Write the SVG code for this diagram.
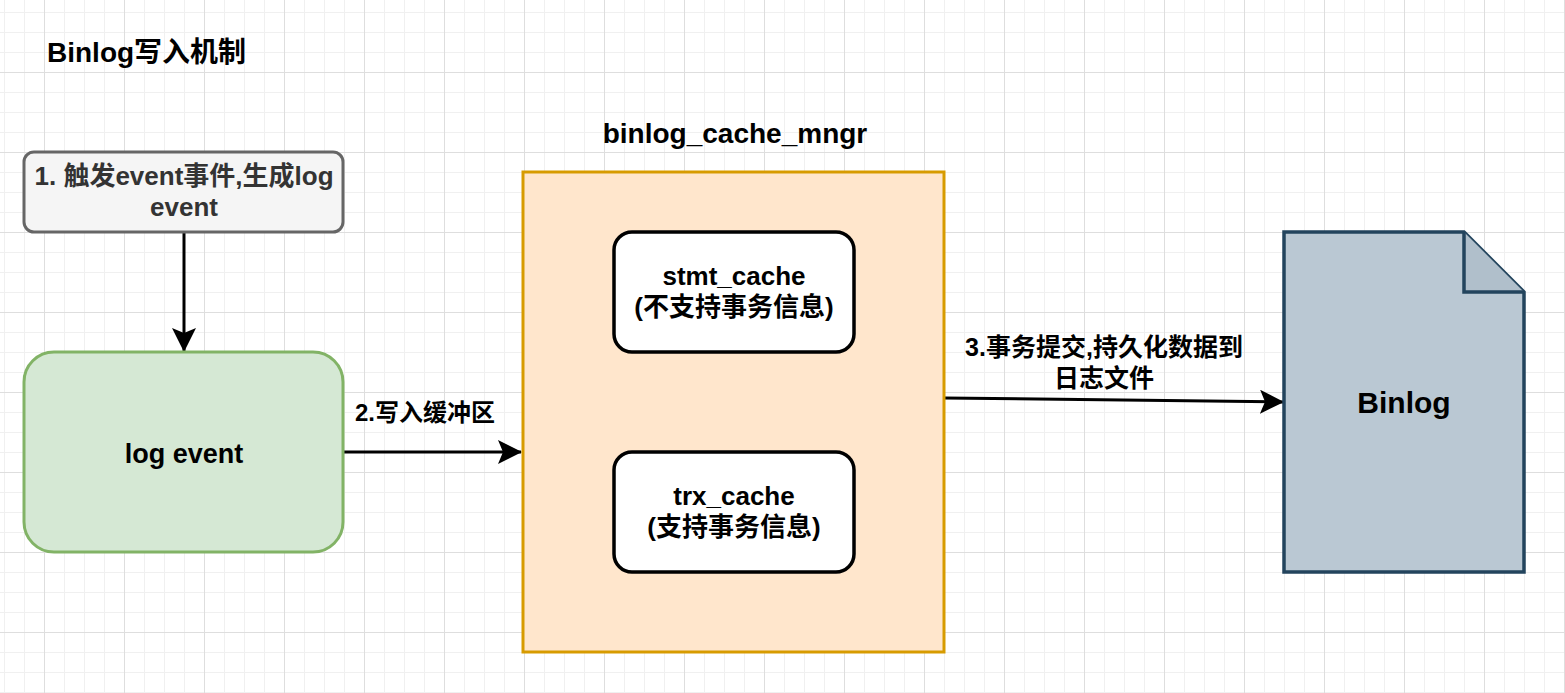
<svg xmlns="http://www.w3.org/2000/svg" width="1565" height="693" viewBox="0 0 1565 693">
<style>
text{font-family:"Liberation Sans","Noto Sans CJK SC",sans-serif;font-weight:bold;fill:#000}
.c{text-anchor:middle}
.edge{fill:none;stroke:#000;stroke-width:3}
</style>
<defs>
<pattern id="grid" patternUnits="userSpaceOnUse" x="44" y="72" width="80" height="80">
<rect x="0" y="0" width="80" height="80" fill="#fff"/>
<g fill="#f0f0f0">
<rect x="20" y="0" width="1" height="80"/><rect x="40" y="0" width="1" height="80"/><rect x="60" y="0" width="1" height="80"/>
<rect x="0" y="20" width="80" height="1"/><rect x="0" y="40" width="80" height="1"/><rect x="0" y="60" width="80" height="1"/>
</g>
<g fill="#dedede">
<rect x="0" y="0" width="1" height="80"/><rect x="0" y="0" width="80" height="1"/>
</g>
</pattern>
<marker id="arr" markerUnits="userSpaceOnUse" viewBox="0 0 24 24" markerWidth="24" markerHeight="24" refX="23" refY="12" orient="auto">
<path d="M0,0 L24,12 L0,24 L5,12 Z" fill="#000"/>
</marker>
</defs>
<rect x="0" y="0" width="1565" height="693" fill="url(#grid)"/>

<g id="title">
<text x="47" y="62" font-size="28">Binlog写入机制</text>
</g>

<g id="connectors">
<path class="edge" d="M184,232 L184,351" marker-end="url(#arr)"/>
<path class="edge" d="M344,452 L521,452" marker-end="url(#arr)"/>
<path class="edge" d="M944,398 L1283,402" marker-end="url(#arr)"/>
<text x="355" y="421" font-size="24">2.写入缓冲区</text>
<text class="c" x="1104" y="356" font-size="25">3.事务提交,持久化数据到</text>
<text class="c" x="1104" y="387" font-size="25">日志文件</text>
</g>

<g id="trigger">
<rect x="24" y="152" width="319" height="80" rx="10" fill="#f5f5f5" stroke="#666666" stroke-width="3"/>
<text class="c" x="184" y="185" font-size="26" style="fill:#333333">1. 触发event事件,生成log</text>
<text class="c" x="184" y="216" font-size="26" style="fill:#333333">event</text>
</g>

<g id="logevent">
<rect x="24" y="352" width="319" height="200" rx="30" fill="#d5e8d4" stroke="#82b366" stroke-width="3"/>
<text class="c" x="184" y="463" font-size="27">log event</text>
</g>

<g id="cachemngr">
<text class="c" x="735" y="143" font-size="28">binlog_cache_mngr</text>
<rect x="523" y="172" width="421" height="480" fill="#ffe6cc" stroke="#d79b00" stroke-width="3"/>
</g>

<g id="stmtcache">
<rect x="614" y="232" width="240" height="120" rx="18" fill="#ffffff" stroke="#000" stroke-width="3.5"/>
<text class="c" x="734" y="285" font-size="26">stmt_cache</text>
<text class="c" x="734" y="316" font-size="26">(不支持事务信息)</text>
</g>

<g id="trxcache">
<rect x="614" y="452" width="240" height="120" rx="18" fill="#ffffff" stroke="#000" stroke-width="3.5"/>
<text class="c" x="734" y="505" font-size="26">trx_cache</text>
<text class="c" x="734" y="536" font-size="26">(支持事务信息)</text>
</g>

<g id="binlog">
<path d="M1284,232 L1464,232 L1524,292 L1524,572 L1284,572 Z" fill="#bac8d3" stroke="#23445d" stroke-width="3.5" stroke-linejoin="miter"/>
<path d="M1464,232 L1464,292 L1524,292" fill="#b0bfcb" stroke="#23445d" stroke-width="3.5"/>
<text class="c" x="1404" y="413" font-size="30">Binlog</text>
</g>
</svg>
